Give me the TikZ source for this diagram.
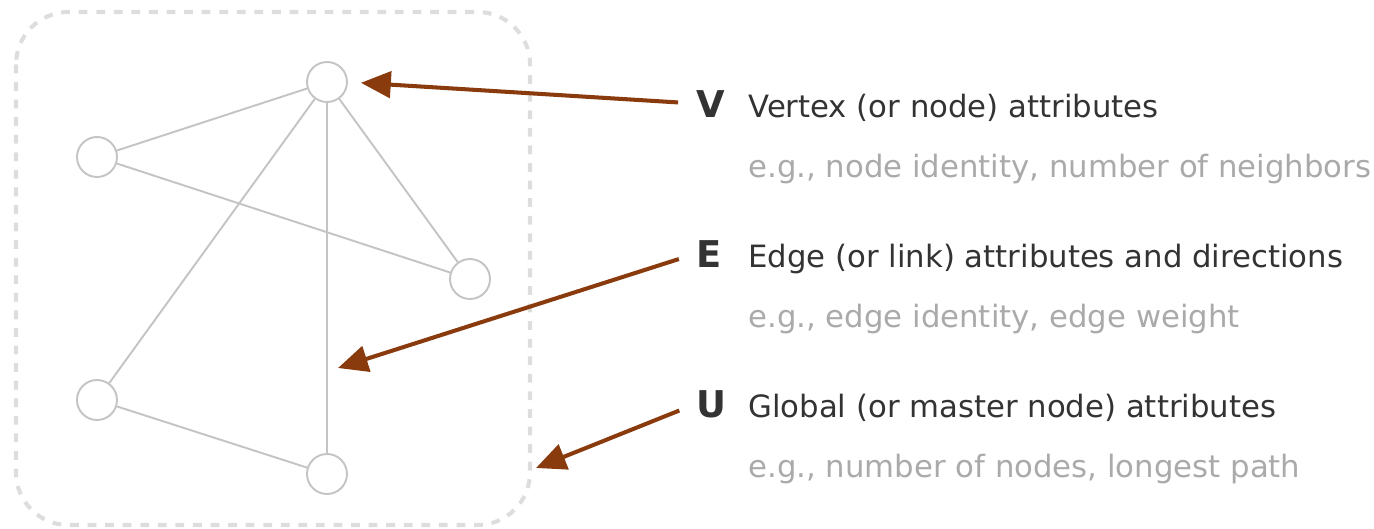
\documentclass[tikz,border=0pt]{standalone}
\usepackage{fontspec}
\setmainfont{DejaVu Sans}
\usetikzlibrary{arrows.meta}
\definecolor{edgegray}{HTML}{C4C4C4}
\definecolor{boxgray}{HTML}{DDDDDD}
\definecolor{pointer}{HTML}{8A3B0E}
\definecolor{textdark}{HTML}{333333}
\definecolor{textlight}{HTML}{AAAAAA}
\tikzset{
  vertex/.style={circle, draw=edgegray, line width=1.1pt, minimum size=0.8cm, inner sep=0pt},
  link/.style={draw=edgegray, line width=1.1pt},
  pointerarrow/.style={draw=pointer, line width=2.3pt, -{Triangle[length=17pt,width=15pt]}},
  letter/.style={anchor=base west, inner sep=0pt, font=\fontsize{21}{25}\selectfont\bfseries, text=textdark},
  title/.style={anchor=base west, inner sep=0pt, font=\fontsize{17.5}{21}\selectfont, text=textdark},
  example/.style={anchor=base west, inner sep=0pt, font=\fontsize{17.5}{21}\selectfont, text=textlight}
}
\begin{document}
\begin{tikzpicture}[x=0.02cm, y=-0.02cm]
  \useasboundingbox (0,0) rectangle (1374,528);
  % frame around the graph
  \draw[boxgray, line width=2.3pt, dash pattern=on 5pt off 5pt, rounded corners=1.05cm]
    (16,12) rectangle (530,525);
  % vertices
  \node[vertex] (top) at (327,82) {};
  \node[vertex] (upleft) at (97,157) {};
  \node[vertex] (right) at (470,279) {};
  \node[vertex] (lowleft) at (97,400) {};
  \node[vertex] (bottom) at (327,474) {};
  % edges
  \draw[link] (top) -- (upleft);
  \draw[link] (top) -- (right);
  \draw[link] (top) -- (bottom);
  \draw[link] (top) -- (lowleft);
  \draw[link] (upleft) -- (right);
  \draw[link] (lowleft) -- (bottom);
  % legend
  \node[letter] (V) at (696,117) {V};
  \node[title] (vtitle) at (748,117) {Vertex (or node) attributes};
  \node[example] (vex) at (748,177) {e.g., node identity, number of neighbors};
  \node[letter] (E) at (696,267) {E};
  \node[title] (etitle) at (748,267) {Edge (or link) attributes and directions};
  \node[example] (eex) at (748,327) {e.g., edge identity, edge weight};
  \node[letter] (U) at (696,417) {U};
  \node[title] (utitle) at (748,417) {Global (or master node) attributes};
  \node[example] (uex) at (748,477) {e.g., number of nodes, longest path};
  % pointers
  \coordinate (etip) at (338,368);
  \coordinate (utip) at (536,468);
  \draw[pointerarrow, shorten <=0.36cm, shorten >=0.26cm] (V.west) -- (top.east);
  \draw[pointerarrow, shorten <=0.36cm] (E.west) -- (etip);
  \draw[pointerarrow, shorten <=0.36cm] (U.west) -- (utip);
\end{tikzpicture}
\end{document}
